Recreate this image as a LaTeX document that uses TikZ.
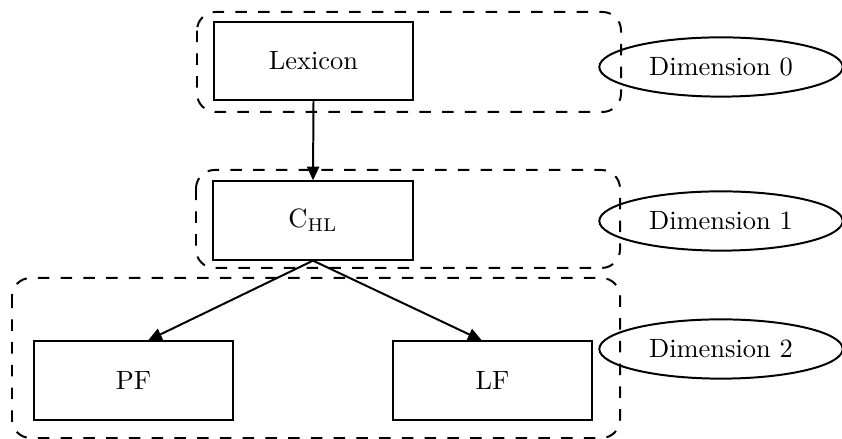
\documentclass[tikz,border=0pt]{standalone}
\usepackage{amsmath}
\usepackage{tikz}
\usetikzlibrary{arrows.meta,shapes.geometric}

\begin{document}
\begin{tikzpicture}[x=0.378pt,y=-0.378pt,>={Triangle[length=5.2pt,width=4.6pt]},
  box/.style={draw,line width=0.75pt,inner sep=0pt,minimum width=75.5pt,minimum height=29.6pt},
  dimnode/.style={draw,ellipse,line width=0.75pt,inner sep=0pt,minimum width=92pt,minimum height=22.4pt},
  cluster/.style={draw,line width=0.75pt,dash pattern=on 4.4pt off 4.2pt,rounded corners=7pt},
  edge/.style={->,line width=0.75pt}]
  \useasboundingbox (0,0) rectangle (842,439);
  % dimension frames
  \draw[cluster] (197,12) rectangle (621,112);
  \draw[cluster] (196,170) rectangle (620,268);
  \draw[cluster] (12,278) rectangle (620,438);
  % modules
  \node[box] (lexicon) at (313.5,61) {Lexicon};
  \node[box] (chl) at (313,220.5) {$\mathrm{C}_{\mathrm{HL}}$};
  \node[box] (pf) at (133.5,380.5) {PF};
  \node[box] (lf) at (492.5,380.5) {LF};
  \foreach \i/\y in {0/67,1/221,2/349}
    \node[dimnode] (dim\i) at (721,\y) {Dimension \i};
  \draw[edge] (lexicon.south) -- (chl.north);
  \draw[edge] (chl.south) -- (pf.70);
  \draw[edge] (chl.south) -- (lf.105);
\end{tikzpicture}
\end{document}
